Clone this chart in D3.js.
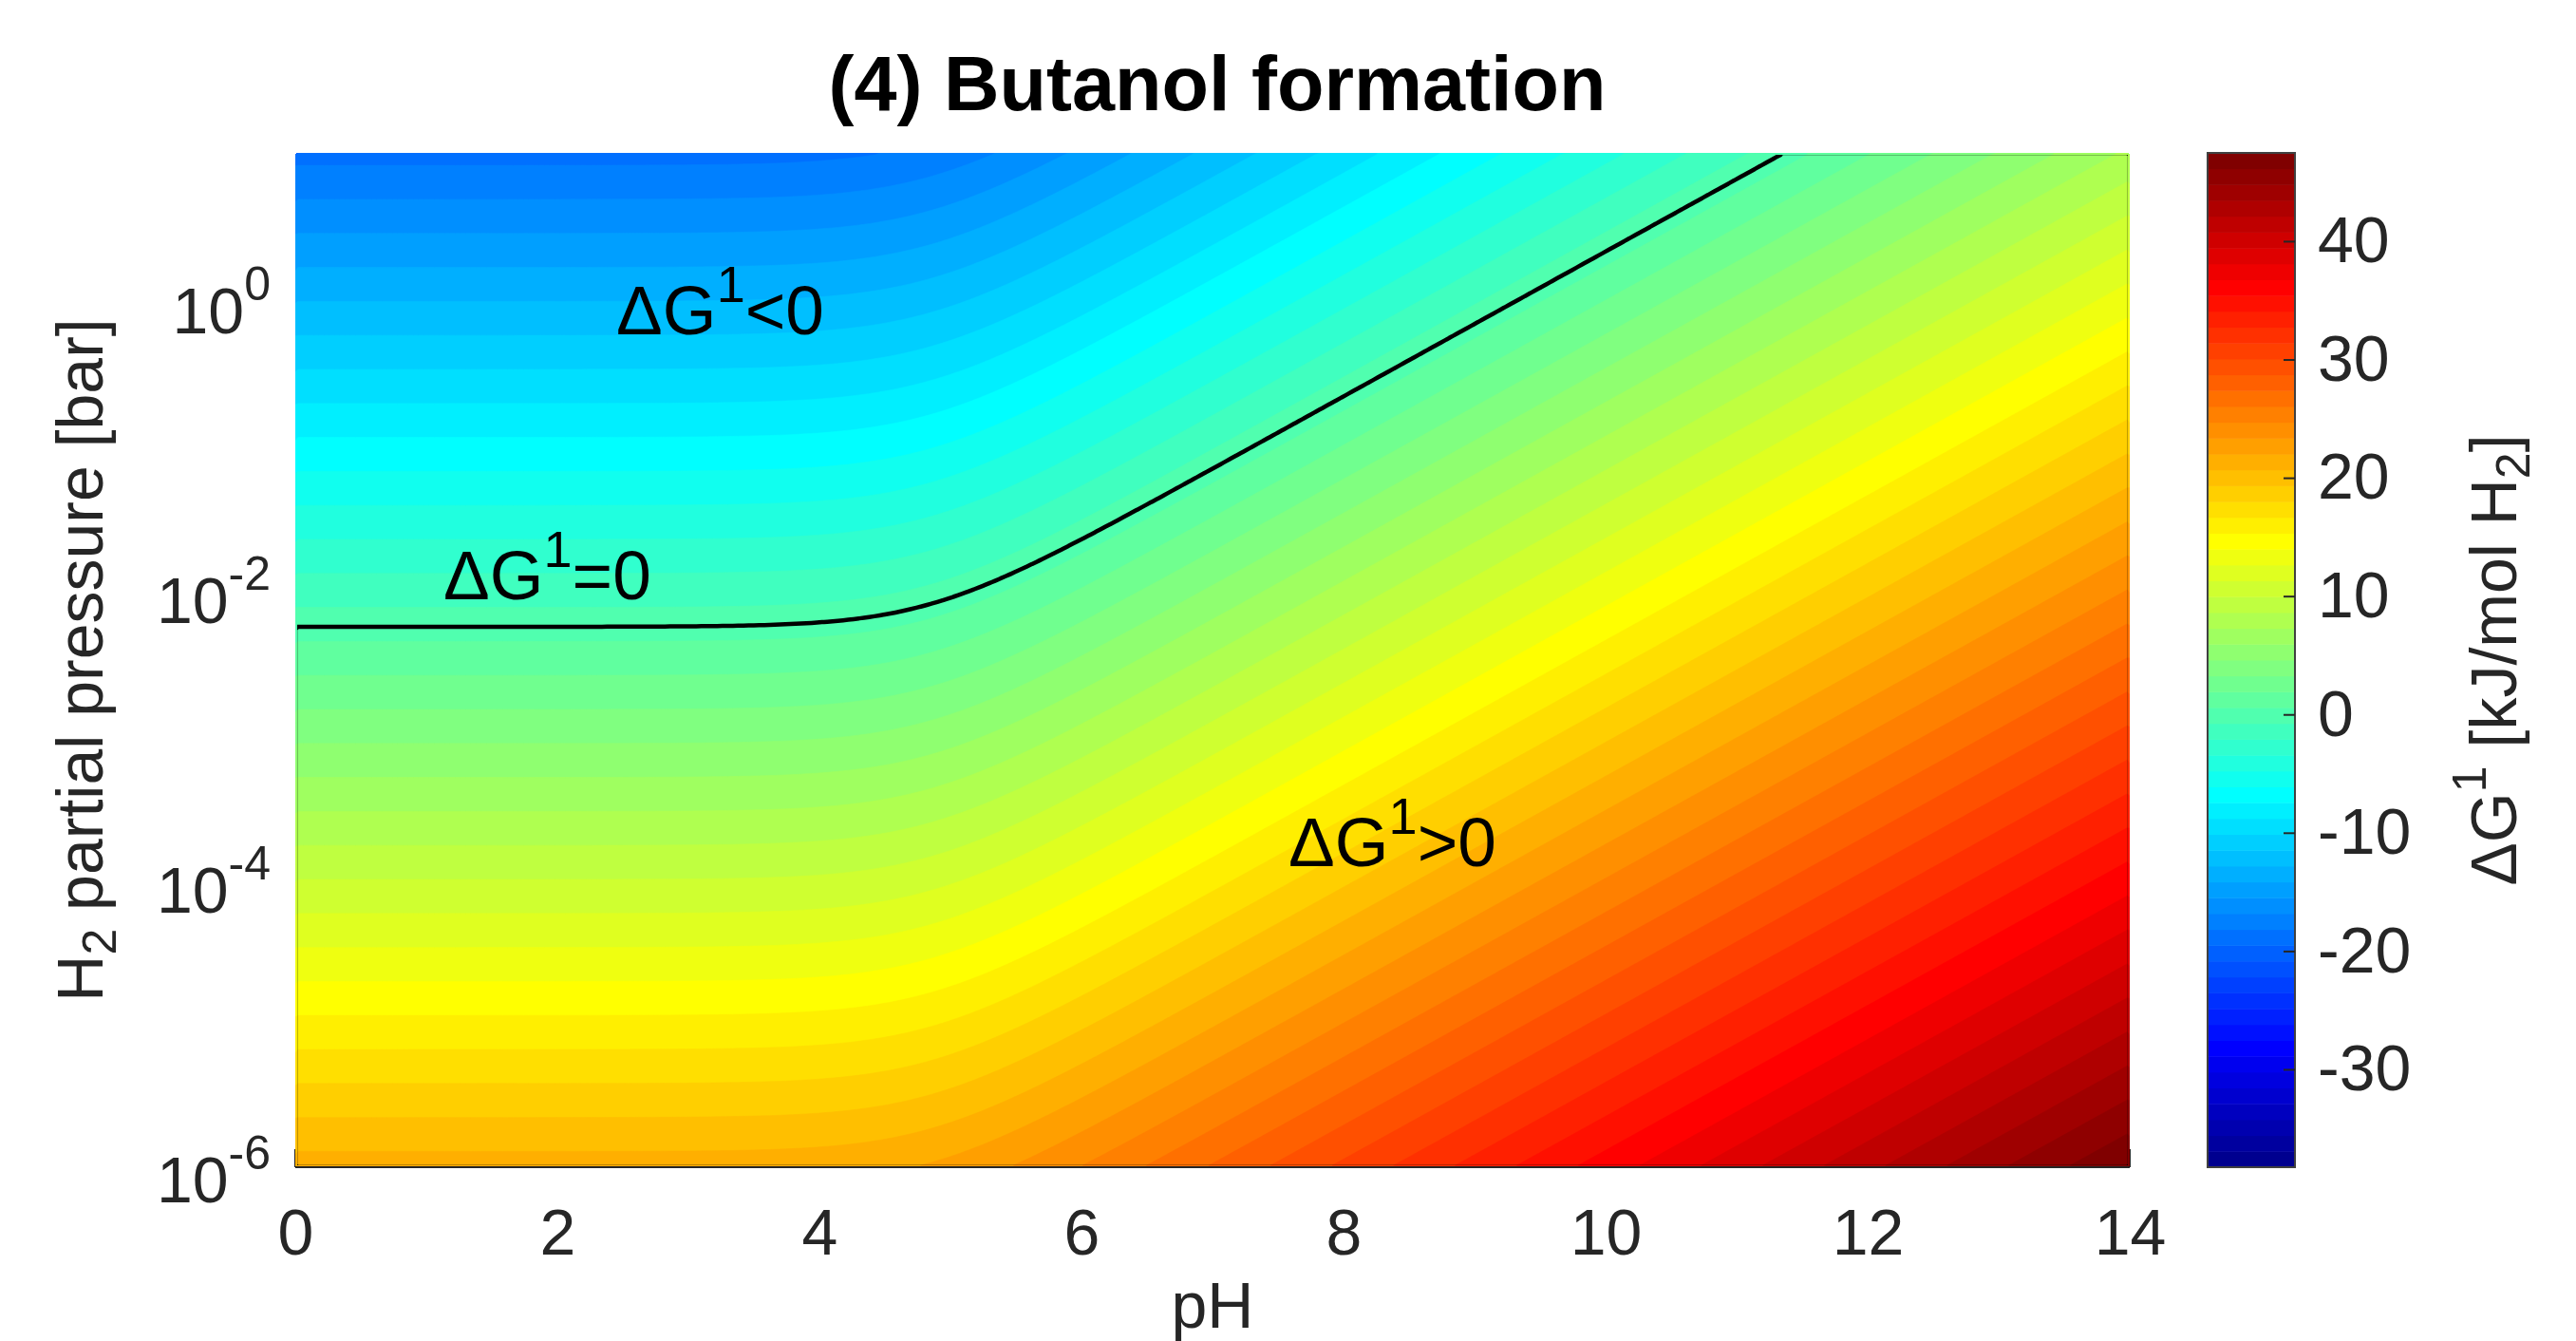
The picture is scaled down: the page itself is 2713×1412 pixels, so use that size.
<!DOCTYPE html>
<html><head><meta charset="utf-8">
<script src="https://cdn.jsdelivr.net/npm/d3@7"></script>
<style>
html,body{margin:0;padding:0;background:#fff;}
svg{display:block;}
text{font-family:"Liberation Sans",Arial,Helvetica,sans-serif;}
</style>
</head><body>
<svg id="chart" width="2713" height="1412"></svg>
<script>
// ---------- data ----------
const titleText = "(4) Butanol formation";
const pHDomain = [0, 14];
const logPDomain = [-6, 1];               // log10 of H2 partial pressure [bar]
const pHTicks = [0, 2, 4, 6, 8, 10, 12, 14];
const pTickExponents = [-6, -4, -2, 0];
const colorbarTicks = [-30, -20, -10, 0, 10, 20, 30, 40];
const colorLimits = [-38.27, 47.46];
const nLevels = 64;
// thermodynamic parameters (zero line & colours)
const dG0perH2 = -12.96;   // kJ/mol H2 at 1 bar, acid fully protonated
const pKa = 4.82;          // butyric acid
const RTln10 = 5.708;      // kJ/mol at 298 K
const annotationTexts = ["<0", "=0", ">0"];
const annotationAnchors = [[2.45, -0.25], [1.13, -2.08], [7.58, -3.92]]; // [pH, log10 p]

// ---------- layout ----------
const X0 = 311, X1 = 2243, Y0 = 161, Y1 = 1229;
const CB0 = 2325, CB1 = 2417;
const FS = 68, FSsub = 50, FSann = 73;
const TXT = "#262626";

function jet(m) {
  const n = Math.ceil(m / 4);
  const u = [];
  for (let i = 1; i <= n; i++) u.push(i / n);
  for (let i = 0; i < n - 1; i++) u.push(1);
  for (let i = n; i >= 1; i--) u.push(i / n);
  const g0 = Math.ceil(n / 2) - (m % 4 === 1 ? 1 : 0);
  const J = Array.from({length: m}, () => [0, 0, 0]);
  for (let k = 0; k < u.length; k++) {
    const g = g0 + k + 1, r = g + n, b = g - n;
    if (r >= 1 && r <= m) J[r - 1][0] = u[k];
    if (g >= 1 && g <= m) J[g - 1][1] = u[k];
    if (b >= 1 && b <= m) J[b - 1][2] = u[k];
  }
  return J.map(c => d3.rgb(c[0] * 255, c[1] * 255, c[2] * 255).formatHex());
}
const cmap = jet(nLevels);

function dG(pH, logp) {
  return dG0perH2 + 0.5 * RTln10 * Math.log10(1 + Math.pow(10, pH - pKa)) - RTln10 * logp;
}

const svg = d3.select("#chart");
const x = d3.scaleLinear().domain(pHDomain).range([X0, X1]);
const y = d3.scaleLinear().domain(logPDomain).range([Y1, Y0]);

// grid
const nx = 350, ny = 280;
const values = new Float64Array(nx * ny);
for (let j = 0; j < ny; j++) {
  const lp = logPDomain[1] - (j + 0.5) * (logPDomain[1] - logPDomain[0]) / ny;
  for (let i = 0; i < nx; i++) {
    const ph = pHDomain[0] + (i + 0.5) * (pHDomain[1] - pHDomain[0]) / nx;
    values[j * nx + i] = dG(ph, lp);
  }
}
const gx = d3.scaleLinear().domain([0, nx]).range([X0, X1]);
const gy = d3.scaleLinear().domain([0, ny]).range([Y0, Y1]);
const path = d3.geoPath(d3.geoTransform({point(px, py) { this.stream.point(gx(px), gy(py)); }}));

const defs = svg.append("defs");
defs.append("clipPath").attr("id", "plotclip").append("rect")
  .attr("x", X0).attr("y", Y0).attr("width", X1 - X0).attr("height", Y1 - Y0);
defs.append("clipPath").attr("id", "lineclip").append("rect")
  .attr("x", X0 + 2).attr("y", Y0 + 2).attr("width", X1 - X0 - 4).attr("height", Y1 - Y0 - 4);

// x ticks (under the fill, like MATLAB)
svg.append("g").selectAll("line").data(pHTicks).join("line")
  .attr("x1", d => x(d)).attr("x2", d => x(d)).attr("y1", Y1).attr("y2", Y1 - 19)
  .attr("stroke", TXT).attr("stroke-width", 2);

// filled contours
const thresholds = d3.range(nLevels).map(i => colorLimits[0] + i * (colorLimits[1] - colorLimits[0]) / nLevels);
const bands = d3.contours().size([nx, ny]).thresholds(thresholds)(values);
svg.append("g").attr("clip-path", "url(#plotclip)")
  .selectAll("path").data(bands).join("path")
  .attr("d", path)
  .attr("fill", (d, i) => cmap[i])
  .attr("stroke", (d, i) => cmap[i]).attr("stroke-width", 0.6);

// zero contour line
const zero = d3.contours().size([nx, ny]).contour(values, 0);
svg.append("path").attr("clip-path", "url(#lineclip)")
  .attr("d", path(zero)).attr("fill", "none")
  .attr("stroke", "#000").attr("stroke-width", 4.5).attr("stroke-linejoin", "round");

// bottom axis line
svg.append("line").attr("x1", X0).attr("x2", X1).attr("y1", Y1).attr("y2", Y1)
  .attr("stroke", TXT).attr("stroke-width", 2);

// x tick labels
const xAxis = d3.axisBottom(x).tickValues(pHTicks).tickSize(0).tickPadding(44).tickFormat(d3.format("d"));
const xg = svg.append("g").attr("transform", `translate(0,${Y1})`).call(xAxis);
xg.select(".domain").remove();
xg.selectAll("text").attr("font-size", FS).attr("fill", TXT).attr("font-family", null);

// y tick labels (10^n)
const ylab = svg.append("g").selectAll("text").data(pTickExponents).join("text")
  .attr("x", 285).attr("y", d => y(d) + 37)
  .attr("text-anchor", "end").attr("fill", TXT).attr("font-size", FS);
ylab.append("tspan").text("10");
ylab.append("tspan").attr("dy", -35).attr("font-size", FSsub).text(d => String(d));

// axis titles
svg.append("text").attr("x", x(7)).attr("y", 1398).attr("text-anchor", "middle")
  .attr("font-size", FS).attr("fill", TXT).text("pH");

const yt = svg.append("text").attr("transform", `translate(108,${(Y0 + Y1) / 2}) rotate(-90)`)
  .attr("text-anchor", "middle").attr("font-size", FS).attr("fill", TXT);
yt.append("tspan").text("H");
yt.append("tspan").attr("dy", 14).attr("font-size", FSsub).text("2");
yt.append("tspan").attr("dy", -14).text(" partial pressure [bar]");

// title
svg.append("text").attr("x", 1282).attr("y", 116).attr("text-anchor", "middle")
  .attr("font-size", 81).attr("font-weight", "bold").attr("fill", "#000").text(titleText);

// annotations
annotationTexts.forEach((t, k) => {
  const a = annotationAnchors[k];
  const tx = svg.append("text").attr("x", x(a[0])).attr("y", y(a[1]))
    .attr("font-size", FSann).attr("fill", "#000");
  tx.append("tspan").text("ΔG");
  tx.append("tspan").attr("dy", -34).attr("font-size", 54).text("1");
  tx.append("tspan").attr("dy", 34).text(t);
});

// colorbar
const cb = d3.scaleLinear().domain(colorLimits).range([Y1, Y0]);
const cbg = svg.append("g");
cbg.selectAll("rect").data(thresholds).join("rect")
  .attr("x", CB0).attr("width", CB1 - CB0)
  .attr("y", d => cb(d + (colorLimits[1] - colorLimits[0]) / nLevels))
  .attr("height", d => cb(d) - cb(d + (colorLimits[1] - colorLimits[0]) / nLevels) + 0.5)
  .attr("fill", (d, i) => cmap[i]);
cbg.append("rect").attr("x", CB0).attr("y", Y0).attr("width", CB1 - CB0).attr("height", Y1 - Y0)
  .attr("fill", "none").attr("stroke", "#404040").attr("stroke-width", 2);
const cbAxis = d3.axisRight(cb).tickValues(colorbarTicks).tickSize(-12).tickPadding(24).tickFormat(d3.format("d"));
const cba = svg.append("g").attr("transform", `translate(${CB1},0)`).call(cbAxis);
cba.select(".domain").remove();
cba.selectAll("line").attr("stroke", TXT).attr("stroke-width", 2);
cba.selectAll("text").attr("font-size", FS).attr("fill", TXT).attr("font-family", null)
  .text(d => d < 0 ? "-" + Math.abs(d) : String(d));

const cbt = svg.append("text").attr("transform", `translate(2650,${(Y0 + Y1) / 2}) rotate(-90)`)
  .attr("text-anchor", "middle").attr("font-size", FS).attr("fill", TXT);
cbt.append("tspan").text("ΔG");
cbt.append("tspan").attr("dy", -32).attr("font-size", FSsub).text("1");
cbt.append("tspan").attr("dy", 32).text(" [kJ/mol H");
cbt.append("tspan").attr("dy", 14).attr("font-size", FSsub).text("2");
cbt.append("tspan").attr("dy", -14).text("]");
</script>
</body></html>
